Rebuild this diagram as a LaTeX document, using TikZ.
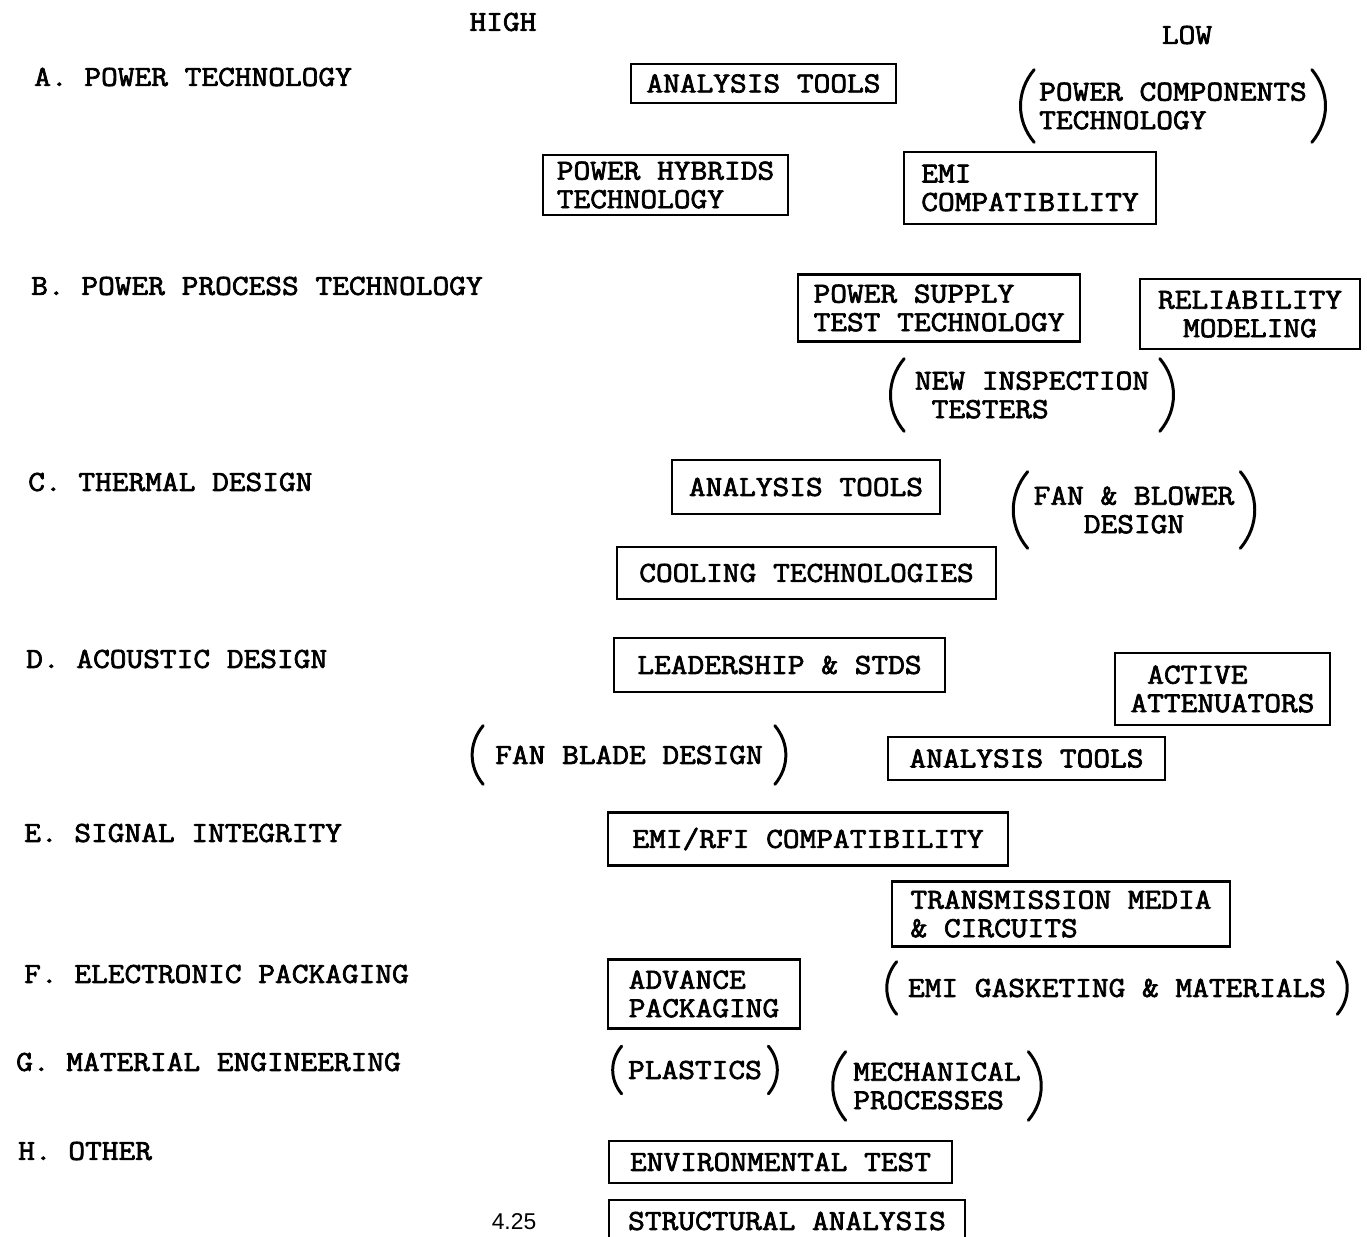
\documentclass[tikz,border=0pt]{standalone}
\usepackage{fontspec}
\setsansfont{Liberation Sans}
\newfontfamily\typefont{Latin Modern Mono}[FakeBold=2.5,FakeStretch=1.12]

\tikzset{
  typed/.style={font=\typefont\fontsize{16.5}{16.2}\selectfont},
  cat/.style={typed, anchor=west},
  item/.style={typed, draw, line width=1.3pt, align=left, inner sep=0pt},
  paren/.style={line width=1.7pt, line cap=round},
  pitem/.style={typed, align=left, inner sep=0pt,
    append after command={
      (\tikzlastnode.north west) edge[paren, bend right=40] (\tikzlastnode.south west)
      (\tikzlastnode.north east) edge[paren, bend left=40] (\tikzlastnode.south east)}}
}

\begin{document}
\begin{tikzpicture}[x=0.02cm,y=-0.02cm]
  \useasboundingbox (0,0) rectangle (1367,1237);
  % column heads
  \node[typed] (high) at (503,22) {HIGH};
  \node[typed] (low) at (1187,35) {LOW};
  % the eight areas
  \node[cat] (catA) at (28,77) {A. POWER TECHNOLOGY};
  \node[cat] (catB) at (25,286) {B. POWER PROCESS TECHNOLOGY};
  \node[cat] (catC) at (22,482) {C. THERMAL DESIGN};
  \node[cat] (catD) at (20,659) {D. ACOUSTIC DESIGN};
  \node[cat] (catE) at (18,833) {E. SIGNAL INTEGRITY};
  \node[cat] (catF) at (18,974) {F. ELECTRONIC PACKAGING};
  \node[cat] (catG) at (10,1062) {G. MATERIAL ENGINEERING};
  \node[cat] (catH) at (12,1151) {H. OTHER};
  % A
  \node[item, minimum width=5.30cm, minimum height=0.78cm] (atPower) at (763.5,83.5) {ANALYSIS TOOLS};
  \node[pitem, minimum width=5.54cm, minimum height=1.44cm] (powerComp) at (1173,106) {POWER COMPONENTS\\TECHNOLOGY};
  \node[item, minimum width=4.90cm, minimum height=1.20cm] (hybrids) at (665.5,185) {POWER HYBRIDS\\TECHNOLOGY};
  \node[item, minimum width=5.04cm, minimum height=1.44cm] (emiPower) at (1030,188) {EMI\\COMPATIBILITY};
  % B
  \node[item, minimum width=5.64cm, minimum height=1.34cm] (psTest) at (939,308) {POWER SUPPLY\\TEST TECHNOLOGY};
  \node[item, align=center, minimum width=4.40cm, minimum height=1.40cm] (relModel) at (1250,314) {RELIABILITY\\MODELING};
  \node[pitem, minimum width=5.10cm, minimum height=1.44cm] (newInsp) at (1032,395) {NEW INSPECTION\\\ TESTERS};
  % C
  \node[item, minimum width=5.36cm, minimum height=1.08cm] (atThermal) at (806,487) {ANALYSIS TOOLS};
  \node[pitem, align=center, minimum width=4.24cm, minimum height=1.52cm] (fanBlower) at (1134,510) {FAN \& BLOWER\\DESIGN};
  \node[item, minimum width=7.58cm, minimum height=1.04cm] (cooling) at (806.5,573) {COOLING TECHNOLOGIES};
  % D
  \node[item, minimum width=6.62cm, minimum height=1.08cm] (leadStds) at (779.5,665) {LEADERSHIP \& STDS};
  \node[item, minimum width=4.30cm, minimum height=1.44cm] (activeAtt) at (1222.5,689) {\ ACTIVE\\ATTENUATORS};
  \node[pitem, minimum width=5.82cm, minimum height=1.16cm] (fanBlade) at (629,755) {FAN BLADE DESIGN};
  \node[item, minimum width=5.54cm, minimum height=0.86cm] (atAcoustic) at (1026.5,758.5) {ANALYSIS TOOLS};
  % E
  \node[item, minimum width=8.00cm, minimum height=1.06cm] (emiRfi) at (808,839) {EMI/RFI COMPATIBILITY};
  \node[item, minimum width=6.76cm, minimum height=1.30cm] (transMedia) at (1061,914) {TRANSMISSION MEDIA\\\& CIRCUITS};
  % F
  \node[item, minimum width=3.84cm, minimum height=1.38cm] (advPack) at (704,994) {ADVANCE\\PACKAGING};
  \node[pitem, minimum width=8.80cm, minimum height=1.04cm] (gasket) at (1117,988) {EMI GASKETING \& MATERIALS};
  % G
  \node[pitem, minimum width=2.92cm, minimum height=0.94cm] (plastics) at (695,1070) {PLASTICS};
  \node[pitem, minimum width=3.64cm, minimum height=1.36cm] (mechProc) at (937,1086) {MECHANICAL\\PROCESSES};
  % H
  \node[item, minimum width=6.86cm, minimum height=0.84cm] (envTest) at (780.5,1162) {ENVIRONMENTAL TEST};
  \node[item, minimum width=7.12cm, minimum height=0.84cm] (structAn) at (787,1221) {STRUCTURAL ANALYSIS};
  \node[font=\sffamily\fontsize{13}{13}\selectfont] (pageNo) at (514,1222) {4.25};
\end{tikzpicture}
\end{document}
